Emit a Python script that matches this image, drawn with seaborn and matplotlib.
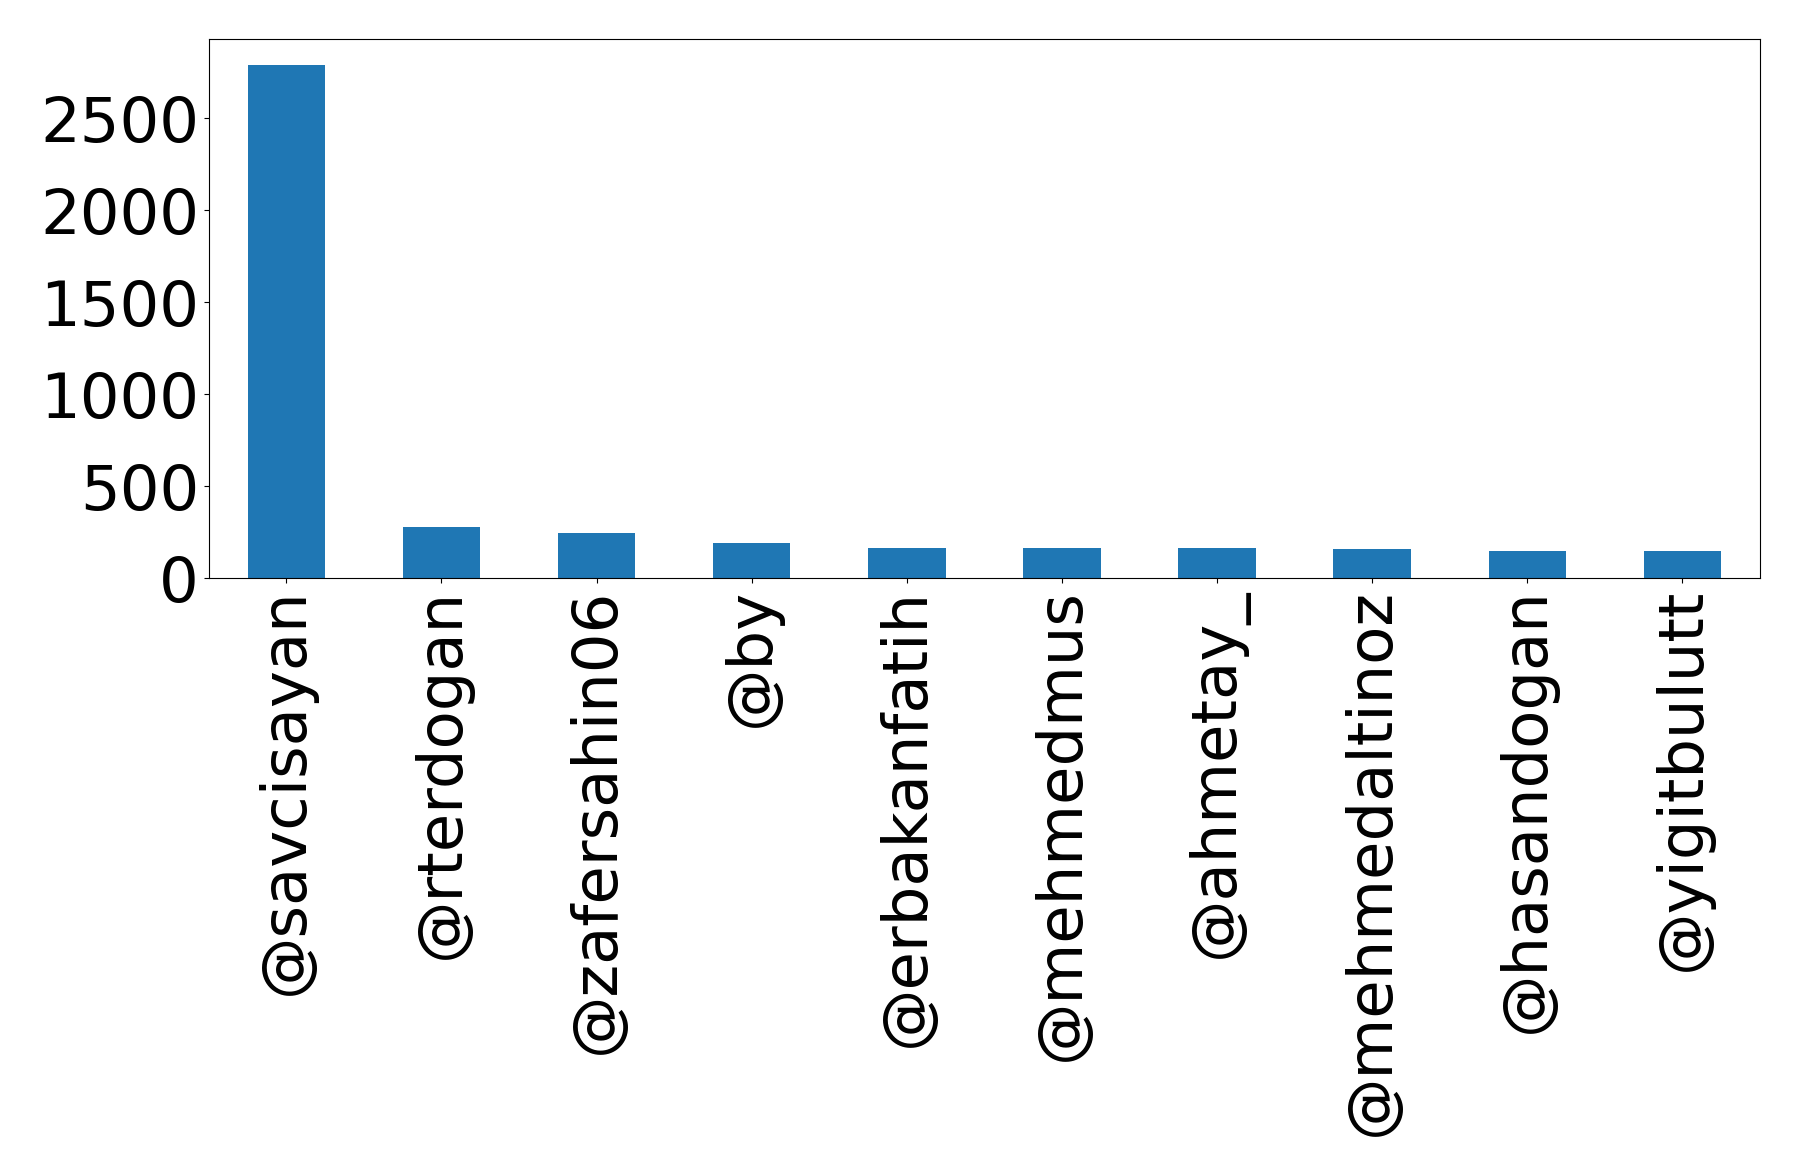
import matplotlib
matplotlib.use("Agg")
import matplotlib.pyplot as plt
import seaborn as sns

# most mentioned accounts
users = ["@savcisayan", "@rterdogan", "@zafersahin06", "@by", "@erbakanfatih",
         "@mehmedmus", "@ahmetay_", "@mehmedaltinoz", "@hasandogan", "@yigitbulutt"]
counts = [2792, 280, 247, 189, 162, 162, 162, 157, 146, 146]

fig, ax = plt.subplots(figsize=(17.98, 11.76), dpi=100)
fig.subplots_adjust(left=0.1161, right=0.9789, top=0.9668, bottom=0.5085)

sns.barplot(x=users, y=counts, color="#1f77b4", saturation=1, width=0.5, ax=ax)

ax.set_xlim(-0.5, len(users) - 0.5)
ax.set_ylim(0, max(counts) * 1.05)
ax.set_yticks([0, 500, 1000, 1500, 2000, 2500])
ax.tick_params(axis="both", labelsize=45)
ax.tick_params(axis="x", labelrotation=90)
ax.set_xlabel("")
ax.set_ylabel("")

fig.savefig("out.png", dpi=100)
